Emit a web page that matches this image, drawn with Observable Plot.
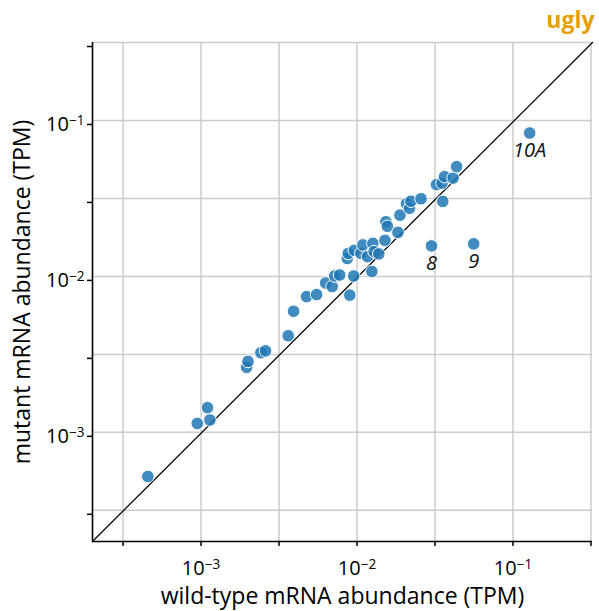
<!DOCTYPE html>
<html><head><meta charset="utf-8">
<script src="https://cdn.jsdelivr.net/npm/d3@7"></script>
<script src="https://cdn.jsdelivr.net/npm/@observablehq/plot@0.6"></script>
<style>body{margin:0;background:#fff}</style>
</head><body><div id="chart"></div>
<script>
// wild-type vs mutant mRNA abundance (TPM)
const wildType = [4.56e-4, 9.46e-4, 1.10e-3, 1.14e-3, 1.96e-3, 2.00e-3, 2.42e-3, 2.59e-3, 3.62e-3, 3.92e-3,
  4.75e-3, 5.51e-3, 6.30e-3, 6.93e-3, 7.19e-3, 7.74e-3, 8.99e-3, 8.66e-3, 8.79e-3, 9.53e-3,
  9.61e-3, 1.058e-2, 1.09e-2, 1.168e-2, 1.245e-2, 1.264e-2, 1.288e-2, 1.38e-2, 1.51e-2, 1.532e-2,
  1.566e-2, 1.83e-2, 1.885e-2, 2.075e-2, 2.17e-2, 2.218e-2, 2.573e-2, 3.546e-2, 3.236e-2, 3.51e-2,
  3.64e-2, 4.13e-2, 4.35e-2, 3.005e-2, 5.6e-2, 0.128];
const mutant = [5.21e-4, 1.14e-3, 1.44e-3, 1.20e-3, 2.61e-3, 2.85e-3, 3.24e-3, 3.33e-3, 4.16e-3, 5.98e-3,
  7.42e-3, 7.65e-3, 9.07e-3, 8.61e-3, 1.006e-2, 1.021e-2, 7.59e-3, 1.303e-2, 1.405e-2, 1.006e-2,
  1.469e-2, 1.405e-2, 1.592e-2, 1.339e-2, 1.076e-2, 1.629e-2, 1.443e-2, 1.394e-2, 1.702e-2, 2.24e-2,
  2.096e-2, 1.917e-2, 2.47e-2, 2.925e-2, 2.735e-2, 3.036e-2, 3.15e-2, 3.026e-2, 3.878e-2, 3.96e-2,
  4.365e-2, 4.27e-2, 5.06e-2, 1.569e-2, 1.617e-2, 8.31e-2];
const pointLabels = Array(43).fill("").concat(["8", "9", "10A"]);

const tickValues = [10 ** -3.5, 1e-3, 10 ** -2.5, 1e-2, 10 ** -1.5, 1e-1, 10 ** -0.5];
const tickLabels = ["", "10^−3", "", "10^−2", "", "10^−1", ""];
const xDomain = [10 ** -3.696, 10 ** -0.49];
const yDomain = [10 ** -3.7, 10 ** -0.5];
const xTitle = ["wild-type mRNA abundance (TPM)"];
const yTitle = ["mutant mRNA abundance (TPM)"];
const chartTitle = ["ugly"];

const data = wildType.map((x, i) => ({x, y: mutant[i], label: pointLabels[i]}));
const fmt = v => tickLabels[tickValues.findIndex(t => Math.abs(Math.log10(t) - Math.log10(v)) < 1e-6)] ?? "";
const gridStyle = {stroke: "#cccccc", strokeOpacity: 1, strokeWidth: 1.5};

const chart = Plot.plot({
  width: 599, height: 611,
  marginLeft: 92, marginRight: 7, marginTop: 42, marginBottom: 70,
  style: {fontFamily: "'Open Sans', sans-serif", fontSize: "20px", background: "#fff", color: "#000"},
  x: {type: "log", domain: xDomain},
  y: {type: "log", domain: yDomain},
  marks: [
    Plot.gridX(tickValues, gridStyle),
    Plot.gridY(tickValues, gridStyle),
    Plot.line([[xDomain[0], yDomain[0]], [xDomain[1], yDomain[1]]], {stroke: "#000", strokeWidth: 1.3}),
    Plot.dot(data, {x: "x", y: "y", r: 6.3, fill: "#1f77b4", fillOpacity: 0.85, stroke: "#fff", strokeWidth: 1}),
    Plot.text(data.filter(d => d.label), {x: "x", y: "y", text: "label", dy: 18, lineAnchor: "middle",
      fontStyle: "italic", fontSize: 20, fill: "#111"}),
    Plot.axisX(tickValues, {tickSize: 5, tickPadding: 14, strokeWidth: 1.5, tickFormat: fmt, label: null, fontSize: 20}),
    Plot.axisY(tickValues, {tickSize: 5, tickPadding: 3, strokeWidth: 1.5, tickFormat: fmt, label: null, fontSize: 20, dy: 4}),
    Plot.ruleX([xDomain[0]], {stroke: "#000", strokeWidth: 1.6}),
    Plot.ruleY([yDomain[0]], {stroke: "#000", strokeWidth: 1.6}),
    Plot.text(xTitle, {frameAnchor: "bottom", text: d => d, dy: 55, lineAnchor: "middle", fontSize: 23}),
    Plot.text(yTitle, {frameAnchor: "left", text: d => d, dx: -70, rotate: -90, textAnchor: "middle", lineAnchor: "middle", fontSize: 23}),
    Plot.text(chartTitle, {frameAnchor: "top-right", text: d => d, dy: -31, dx: 2, textAnchor: "end", lineAnchor: "top",
      fontSize: 23, fontWeight: "bold", fill: "#E69F00"})
  ]
});

// render exponents as superscripts
const ns = "http://www.w3.org/2000/svg";
chart.querySelectorAll('[aria-label="x-axis tick label"] text, [aria-label="y-axis tick label"] text').forEach(t => {
  const s = t.textContent;
  if (!s.includes("^")) return;
  const [base, exp] = s.split("^");
  t.textContent = "";
  const a = document.createElementNS(ns, "tspan");
  a.textContent = base;
  const b = document.createElementNS(ns, "tspan");
  b.setAttribute("dy", "-0.45em");
  b.setAttribute("font-size", "0.68em");
  b.textContent = exp;
  t.appendChild(a); t.appendChild(b);
});
document.getElementById("chart").appendChild(chart);
</script>
</body></html>
